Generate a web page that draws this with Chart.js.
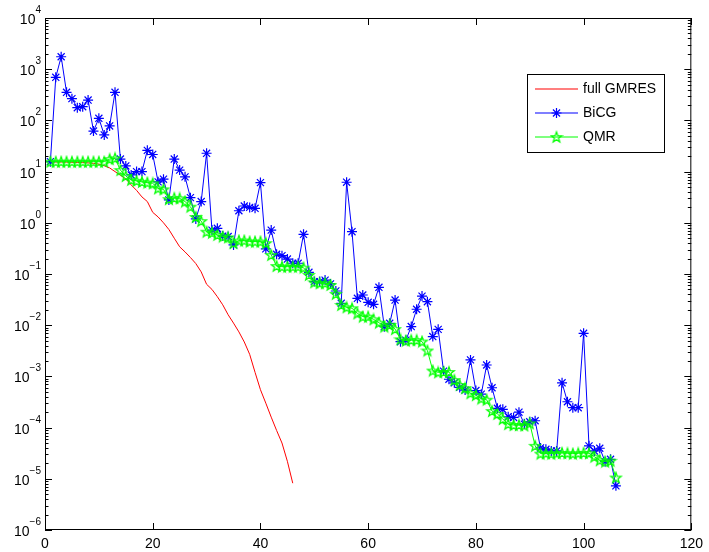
<!DOCTYPE html>
<html>
<head>
<meta charset="utf-8">
<title>Residual norms: full GMRES, BiCG, QMR</title>
<script src="https://cdn.jsdelivr.net/npm/chart.js@4.4.0/dist/chart.umd.min.js"></script>
<style>
  html, body { margin: 0; padding: 0; background: #fff; }
  #wrap { width: 709px; height: 552px; }
</style>
</head>
<body>
<div id="wrap"><canvas id="chart" width="709" height="552"></canvas></div>
<script>
// ── Data ──────────────────────────────────────────────────────
const xTicks      = [0, 20, 40, 60, 80, 100, 120];
const yExponents  = [-6, -5, -4, -3, -2, -1, 0, 1, 2, 3, 4];
const seriesNames = ['full GMRES', 'BiCG', 'QMR'];

// residual norm per iteration, starting at iteration 1
const gmresRes = [
  15.5, 15.4, 15.4, 15.3, 15.2, 15.1, 15.0, 14.8, 14.5, 14.0,
  13.0, 11.8, 10.0, 8.5, 7.2, 5.5, 4.3, 3.2, 2.6, 1.6,
  1.3, 1.0, 0.74, 0.5, 0.34, 0.27, 0.21, 0.16, 0.11, 0.063,
  0.05, 0.036, 0.025, 0.016, 0.011, 0.0074, 0.0047, 0.0027, 0.0012, 0.00055,
  0.0003, 0.00016, 0.000088, 0.00005, 0.000022, 0.0000082
];

const bicgRes = [
  15.6, 695, 1750, 354, 266, 177, 185, 250, 62, 110,
  52, 78, 354, 17.6, 12.9, 8.6, 10, 10, 26, 21.6,
  6.3, 7.1, 2.8, 17.6, 10.7, 7.9, 3.1, 1.19, 2.6, 22.8,
  0.72, 0.78, 0.55, 0.54, 0.37, 1.72, 2.13, 2.0, 1.92, 6.1,
  0.31, 0.72, 0.243, 0.228, 0.196, 0.162, 0.162, 0.596, 0.108, 0.071,
  0.071, 0.076, 0.064, 0.0466, 0.0268, 6.2, 0.67, 0.0335, 0.0389, 0.028,
  0.0256, 0.055, 0.00935, 0.0109, 0.031, 0.00476, 0.0051, 0.0094, 0.0205, 0.037,
  0.0288, 0.006, 0.0083, 0.00127, 0.00088, 0.00075, 0.00061, 0.00054, 0.0021, 0.00053,
  0.00045, 0.00167, 0.0006, 0.000238, 0.000227, 0.000163, 0.000158, 0.0002, 0.000117, 0.00013,
  0.000136, 0.00004, 0.0000377, 0.000035, 0.000035, 0.00075, 0.00032, 0.000245, 0.000245, 0.00695,
  0.000044, 0.000035, 0.0000395, 0.0000216, 0.000024, 0.0000073
];

const qmrRes = [
  15.6, 15.6, 15.6, 15.6, 15.6, 15.6, 15.6, 15.6, 15.6, 15.6,
  15.6, 17.5, 18.2, 10.7, 8.2, 6.9, 6.6, 6.3, 6.1, 5.9,
  4.7, 4.5, 2.9, 3.05, 3.0, 2.6, 2.06, 1.3, 1.08, 0.67,
  0.64, 0.58, 0.54, 0.52, 0.40, 0.45, 0.45, 0.43, 0.43, 0.43,
  0.40, 0.235, 0.143, 0.139, 0.139, 0.139, 0.139, 0.133, 0.096, 0.069,
  0.066, 0.066, 0.061, 0.041, 0.0248, 0.0224, 0.0214, 0.017, 0.0147, 0.0147,
  0.013, 0.0112, 0.0094, 0.0101, 0.0084, 0.0053, 0.005, 0.0051, 0.0051, 0.0048,
  0.0032, 0.0013, 0.0012, 0.00122, 0.00122, 0.00085, 0.00068, 0.00059, 0.00047, 0.00043,
  0.00037, 0.00035, 0.00021, 0.000185, 0.000147, 0.000117, 0.000112, 0.000112, 0.00011, 0.000121,
  0.000044, 0.000031, 0.0000315, 0.000031, 0.0000315, 0.000032, 0.0000315, 0.000031, 0.0000315, 0.000032,
  0.0000315, 0.000027, 0.000023, 0.0000216, 0.0000225, 0.0000106
];

// ── Helpers ───────────────────────────────────────────────────
const FONT   = '"Liberation Sans", Arial, Helvetica, sans-serif';
const RED    = '#ff0000';
const BLUE   = '#0000ff';
const GREEN  = '#00ff00';

const toPoints = arr => arr.map((v, i) => ({ x: i + 1, y: v }));

// MATLAB-style pentagram marker (outline only)
const makePentagram = (color, r) => {
  const size = Math.ceil(r * 2 + 3);
  const c = document.createElement('canvas');
  c.width = size;
  c.height = size;
  const g = c.getContext('2d');
  const cx = size / 2, cy = size / 2 + 0.5;
  g.beginPath();
  for (let k = 0; k < 10; k++) {
    const rad = k % 2 === 0 ? r : r * 0.4;
    const a = -Math.PI / 2 + k * Math.PI / 5;
    const px = cx + rad * Math.cos(a);
    const py = cy + rad * Math.sin(a);
    if (k === 0) g.moveTo(px, py); else g.lineTo(px, py);
  }
  g.closePath();
  g.strokeStyle = color;
  g.lineWidth = 1.3;
  g.stroke();
  return c;
};
const pentagram = makePentagram(GREEN, 5.5);

// ── Axes box, inward ticks, 10^n labels, legend ───────────────
const matlabAxes = {
  id: 'matlabAxes',
  afterDraw(chart) {
    const ctx = chart.ctx;
    const { left, right, top, bottom } = chart.chartArea;
    const xs = chart.scales.x;
    const ys = chart.scales.y;

    ctx.save();
    ctx.strokeStyle = '#000';
    ctx.lineWidth = 1;

    // box
    ctx.strokeRect(left + 0.5, top + 0.5, right - left - 1, bottom - top - 1);

    // y ticks (major + minor), both sides
    ctx.beginPath();
    yExponents.forEach(e => {
      const yp = Math.round(ys.getPixelForValue(Math.pow(10, e))) + 0.5;
      ctx.moveTo(left, yp);  ctx.lineTo(left + 7, yp);
      ctx.moveTo(right, yp); ctx.lineTo(right - 7, yp);
      if (e < 4) {
        for (let m = 2; m <= 9; m++) {
          const ym = Math.round(ys.getPixelForValue(m * Math.pow(10, e))) + 0.5;
          ctx.moveTo(left, ym);  ctx.lineTo(left + 3.5, ym);
          ctx.moveTo(right, ym); ctx.lineTo(right - 3.5, ym);
        }
      }
    });
    // x ticks, bottom and top
    xTicks.forEach(v => {
      const xp = Math.round(xs.getPixelForValue(v)) + 0.5;
      ctx.moveTo(xp, bottom); ctx.lineTo(xp, bottom - 7);
      ctx.moveTo(xp, top);    ctx.lineTo(xp, top + 7);
    });
    ctx.stroke();

    // y labels as 10 with superscript exponent
    ctx.fillStyle = '#000';
    ctx.textBaseline = 'alphabetic';
    yExponents.forEach(e => {
      const yp = ys.getPixelForValue(Math.pow(10, e));
      const exp = e < 0 ? '\u2212' + Math.abs(e) : String(e);
      ctx.font = '10px ' + FONT;
      const we = ctx.measureText(exp).width;
      ctx.font = '14px ' + FONT;
      const wb = ctx.measureText('10').width;
      const xEnd = 41;
      ctx.textAlign = 'left';
      ctx.fillText('10', xEnd - we - wb, yp + 6);
      ctx.font = '10px ' + FONT;
      ctx.fillText(exp, xEnd - we, yp - 5);
    });

    // legend
    const lx = 527, ly = 74, lw = 137, lh = 78;
    ctx.fillStyle = '#fff';
    ctx.fillRect(lx, ly, lw, lh);
    ctx.strokeStyle = '#000';
    ctx.strokeRect(lx + 0.5, ly + 0.5, lw, lh);
    const rows = [89, 113, 137];
    chart.data.datasets.forEach((ds, i) => {
      const ry = rows[i];
      ctx.strokeStyle = ds.borderColor;
      ctx.lineWidth = 1.2;
      ctx.beginPath();
      ctx.moveTo(535, ry); ctx.lineTo(578, ry);
      ctx.stroke();
      if (ds.pointStyle === 'star') {
        const r = ds.pointRadius;
        ctx.lineWidth = ds.pointBorderWidth;
        ctx.beginPath();
        ctx.moveTo(556.5 - r, ry); ctx.lineTo(556.5 + r, ry);
        ctx.moveTo(556.5, ry - r); ctx.lineTo(556.5, ry + r);
        const d = r * Math.SQRT1_2;
        ctx.moveTo(556.5 - d, ry - d); ctx.lineTo(556.5 + d, ry + d);
        ctx.moveTo(556.5 - d, ry + d); ctx.lineTo(556.5 + d, ry - d);
        ctx.stroke();
      } else if (ds.pointStyle instanceof HTMLCanvasElement) {
        const img = ds.pointStyle;
        ctx.drawImage(img, 556.5 - img.width / 2, ry - img.height / 2);
      }
      ctx.fillStyle = '#000';
      ctx.font = '14px ' + FONT;
      ctx.textAlign = 'left';
      ctx.textBaseline = 'middle';
      ctx.fillText(ds.label, 583, ry + 0.5);
    });
    ctx.restore();
  }
};

// ── Chart ─────────────────────────────────────────────────────
new Chart(document.getElementById('chart'), {
  type: 'line',
  data: {
    datasets: [
      {
        label:       seriesNames[0],
        data:        toPoints(gmresRes),
        borderColor: RED,
        borderWidth: 1,
        pointRadius: 0,
        order:       2
      },
      {
        label:            seriesNames[1],
        data:             toPoints(bicgRes),
        borderColor:      BLUE,
        borderWidth:      1,
        pointStyle:       'star',
        pointRadius:      5,
        pointBorderColor: BLUE,
        pointBorderWidth: 1.2,
        order:            1
      },
      {
        label:            seriesNames[2],
        data:             toPoints(qmrRes),
        borderColor:      GREEN,
        borderWidth:      1,
        pointStyle:       pentagram,
        pointRadius:      5,
        order:            0
      }
    ]
  },
  options: {
    responsive:        false,
    animation:         false,
    devicePixelRatio:  1,
    layout: { padding: { top: 18, right: 14, left: 0, bottom: 0 } },
    plugins: {
      legend:  { display: false },
      tooltip: { enabled: false }
    },
    elements: { line: { tension: 0 } },
    scales: {
      x: {
        type: 'linear',
        min: 0,
        max: 120,
        grid:   { display: false, drawTicks: false },
        border: { display: false },
        ticks: {
          stepSize: 20,
          color: '#000',
          padding: 6,
          maxRotation: 0,
          font: { family: FONT, size: 14 }
        },
        afterFit: s => { s.height = 22; }
      },
      y: {
        type: 'logarithmic',
        min: 1e-6,
        max: 1e4,
        grid:   { display: false, drawTicks: false },
        border: { display: false },
        ticks:  { display: false },
        afterFit: s => { s.width = 45; }
      }
    }
  },
  plugins: [matlabAxes]
});
</script>
</body>
</html>
